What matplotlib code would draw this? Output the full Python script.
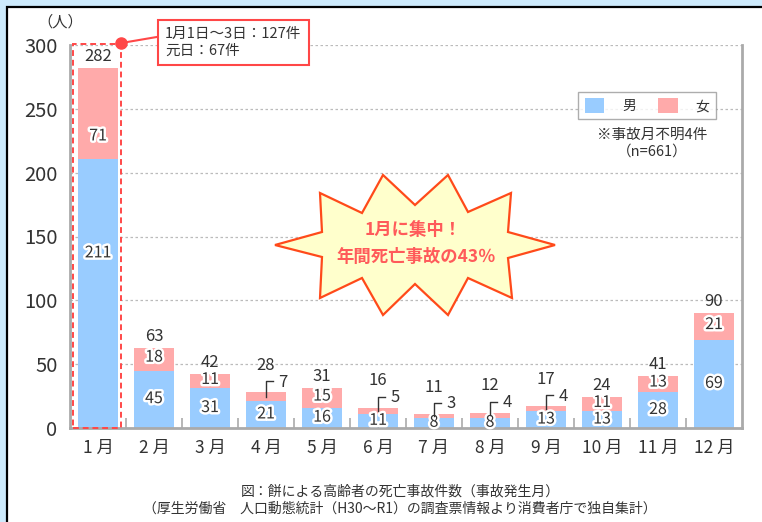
import matplotlib
matplotlib.use("Agg")
import matplotlib.pyplot as plt
import matplotlib.patheffects as pe
from matplotlib.patches import Patch, Polygon, Rectangle
import numpy as np

plt.rcParams["font.family"] = ["Noto Sans CJK JP", "DejaVu Sans"]

MONTHS = ["1 月", "2 月", "3 月", "4 月", "5 月", "6 月",
          "7 月", "8 月", "9 月", "10 月", "11 月", "12 月"]
MALE = [211, 45, 31, 21, 16, 11, 8, 8, 13, 13, 28, 69]
FEMALE = [71, 18, 11, 7, 15, 5, 3, 4, 4, 11, 13, 21]

MALE_COLOR = "#99ccff"
FEMALE_COLOR = "#ffaaaa"
RED = "#ff4747"
TEXT = "#333333"
W, H = 762, 522

# starburst outline in picture pixels (x right, y down)
STAR_PX = [(275, 245), (322, 232), (320, 193), (362, 213), (383, 175),
           (415, 205), (448, 175), (468, 212), (511, 193), (508, 232),
           (555, 245), (508, 258), (512, 298), (468, 278), (448, 315),
           (415, 284), (383, 315), (362, 278), (320, 298), (322, 257)]

male = np.array(MALE)
female = np.array(FEMALE)
total = male + female
x = np.arange(len(MONTHS))

# label heights: mid-segment, nudged apart a little; the tall January bar
# carries its labels lower, as in the source figure
male_y = male / 2 + 0.5
female_y = male + female / 2 + 1.5
male_y[0] = male[0] * 0.65
female_y[0] = total[0] - female[0] * 0.75

fig = plt.figure(figsize=(W / 100, H / 100), dpi=100, facecolor="#cdeafc")
fig.patches.append(Rectangle((7 / W, -0.1), 1.1, 1 - 7 / H + 0.1,
                             transform=fig.transFigure, facecolor="white",
                             edgecolor="black", linewidth=1.6, zorder=-5))

ax = fig.add_axes([70 / W, 94 / H, 672 / W, 383 / H])
ax.set_facecolor("none")
ax.bar(x, male, width=0.72, color=MALE_COLOR, zorder=2)
ax.bar(x, female, width=0.72, bottom=male, color=FEMALE_COLOR, zorder=2)

outline = [pe.withStroke(linewidth=3.5, foreground="white")]
for i in x:
    ax.text(i, male_y[i], str(male[i]), ha="center", va="center",
            fontsize=11.5, color=TEXT, path_effects=outline, zorder=4)
    if female[i] >= 10:
        ax.text(i, female_y[i], str(female[i]), ha="center",
                va="center", fontsize=11.5, color=TEXT, path_effects=outline,
                zorder=4)
        ax.text(i, total[i] + 9, str(total[i]), ha="center", va="center",
                fontsize=12, color=TEXT, zorder=4)
    else:
        ax.plot([i, i, i + 0.12],
                [male[i] + female[i] / 2, total[i] + 8.5, total[i] + 8.5],
                color=TEXT, linewidth=1, zorder=4)
        ax.text(i + 0.3, total[i] + 8, str(female[i]), ha="center",
                va="center", fontsize=12, color=TEXT, zorder=4)
        ax.text(i, total[i] + 21, str(total[i]), ha="center", va="center",
                fontsize=12, color=TEXT, zorder=4)

ax.set_xlim(-0.5, len(MONTHS) - 0.5)
ax.set_ylim(0, 300)
ax.set_yticks(np.arange(0, 301, 50))
ax.set_xticks(x)
ax.set_xticklabels(MONTHS)
ax.set_xticks(np.arange(0.5, len(MONTHS) - 1, 1), minor=True)
ax.tick_params(axis="y", length=0, pad=9, labelsize=14.5, labelcolor=TEXT)
ax.tick_params(axis="x", which="major", length=0, pad=8, labelsize=12.5,
               labelcolor=TEXT)
ax.tick_params(axis="x", which="minor", direction="in", length=7,
               width=1.2, color="#aaaaaa")
ax.grid(axis="y", color="#bbbbbb", linestyle=(0, (2, 2)), linewidth=0.9,
        zorder=1)
ax.set_axisbelow(True)
ax.spines["top"].set_visible(False)
for side in ("left", "right", "bottom"):
    ax.spines[side].set_color("#aaaaaa")
    ax.spines[side].set_linewidth(2)

# January highlight and callout
ax.add_patch(Rectangle((-0.45, 0), 0.86, 301, fill=False, edgecolor=RED,
                       linestyle=(0, (3, 2)), linewidth=1.4, clip_on=False,
                       zorder=3))
ax.plot(0.41, 301.5, "o", color=RED, markersize=8, clip_on=False, zorder=5)
ax.annotate("1月1日～3日：127件\n元日：67件", xy=(0.41, 301.5),
            xytext=(1.2, 302), textcoords="data", ha="left", va="center",
            fontsize=10.5, color=TEXT, linespacing=1.3,
            bbox=dict(boxstyle="square,pad=0.5", facecolor="white",
                      edgecolor=RED, linewidth=1.5),
            arrowprops=dict(arrowstyle="-", color=RED, linewidth=1.5,
                            relpos=(0, 0.72), shrinkA=0, shrinkB=0),
            annotation_clip=False, zorder=5)

fig.text(60 / W, 1 - 22 / H, "（人）", ha="center", va="center",
         fontsize=11, color=TEXT)

handles = [Patch(facecolor=MALE_COLOR, label="男"),
           Patch(facecolor=FEMALE_COLOR, label="女")]
leg = ax.legend(handles=handles, loc="upper right", ncol=2,
                bbox_to_anchor=(0.961, 0.877), fontsize=10, frameon=True,
                fancybox=False, edgecolor="#999999", handlelength=1.4,
                handleheight=1.2, handletextpad=1.3, columnspacing=1.6,
                borderpad=0.45, borderaxespad=0)
leg.get_frame().set_linewidth(1)
for t in leg.get_texts():
    t.set_color(TEXT)
fig.text(652 / W, 1 - 135 / H, "※事故月不明4件", ha="center", va="center",
         fontsize=10.5, color=TEXT)
fig.text(652 / W, 1 - 152 / H, "（n=661）", ha="center", va="center",
         fontsize=10.5, color=TEXT)

star = [(px / W, 1 - py / H) for px, py in STAR_PX]
fig.patches.append(Polygon(star, closed=True, transform=fig.transFigure,
                           facecolor="#ffffcc", edgecolor="#ff4a1a",
                           linewidth=1.6, zorder=6))
fig.text(413 / W, 1 - 230 / H, "1月に集中！", ha="center", va="center",
         fontsize=12.5, fontweight="bold", color="#ff5a5a", zorder=7)
fig.text(416 / W, 1 - 257 / H, "年間死亡事故の43％", ha="center",
         va="center", fontsize=12.5, fontweight="bold", color="#ff5a5a",
         zorder=7)

fig.text(400 / W, 1 - 491 / H, "図：餅による高齢者の死亡事故件数（事故発生月）",
         ha="center", va="center", fontsize=10, color=TEXT)
fig.text(400 / W, 1 - 509 / H,
         "（厚生労働省　人口動態統計（H30～R1）の調査票情報より消費者庁で独自集計）",
         ha="center", va="center", fontsize=10, color=TEXT)

fig.savefig("out.png", dpi=100, facecolor=fig.get_facecolor())
